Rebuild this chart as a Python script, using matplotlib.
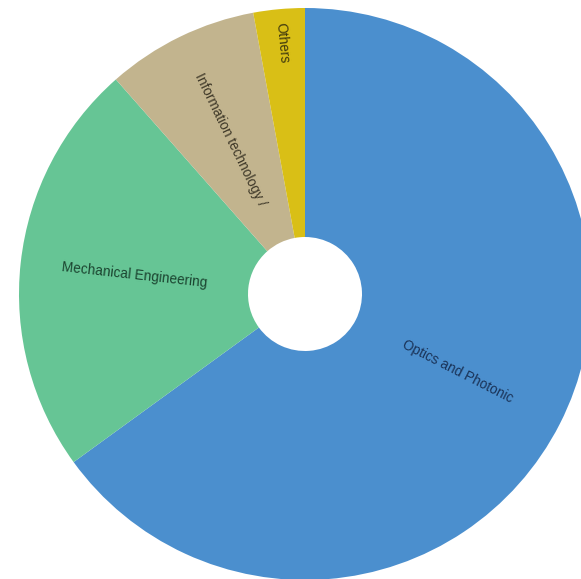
import numpy as np
import matplotlib
matplotlib.use('Agg')
import matplotlib.pyplot as plt

# share per field
labels = ['Optics and Photonic', 'Mechanical Engineering', 'Information technology /', 'Others']
values = [65.0, 23.5, 8.6, 2.9]
colors = ['#4b8fce', '#66c595', '#c2b48e', '#d9bf16']
text_colors = ['#1a3358', '#1b4430', '#3e3828', '#3e380e']

fig = plt.figure(figsize=(5.81, 5.79), dpi=100)
ax = fig.add_axes([0, 0, 1, 1])

cx, cy, R = 305, 579 - 294, 286
wedges, _ = ax.pie(values, colors=colors, startangle=90, counterclock=False,
                   center=(cx, cy), radius=R, frame=True,
                   wedgeprops=dict(width=R - 57, linewidth=0))
ax.set_xlim(0, 581)
ax.set_ylim(0, 579)
ax.set_aspect('equal')
ax.axis('off')

dist = [0.6, 0.6, 0.6, 0.88]
for w, lab, tc, d in zip(wedges, labels, text_colors, dist):
    mid = np.deg2rad((w.theta1 + w.theta2) / 2)
    x = cx + d * R * np.cos(mid)
    y = cy + d * R * np.sin(mid)
    rot = np.rad2deg(mid)
    if np.cos(mid) < 0:
        rot = rot - 180
    ax.text(x, y, lab, rotation=rot, rotation_mode='anchor', ha='center', va='center',
            fontsize=9.8, color=tc, family='Liberation Sans')

fig.savefig('out.png', dpi=100)
